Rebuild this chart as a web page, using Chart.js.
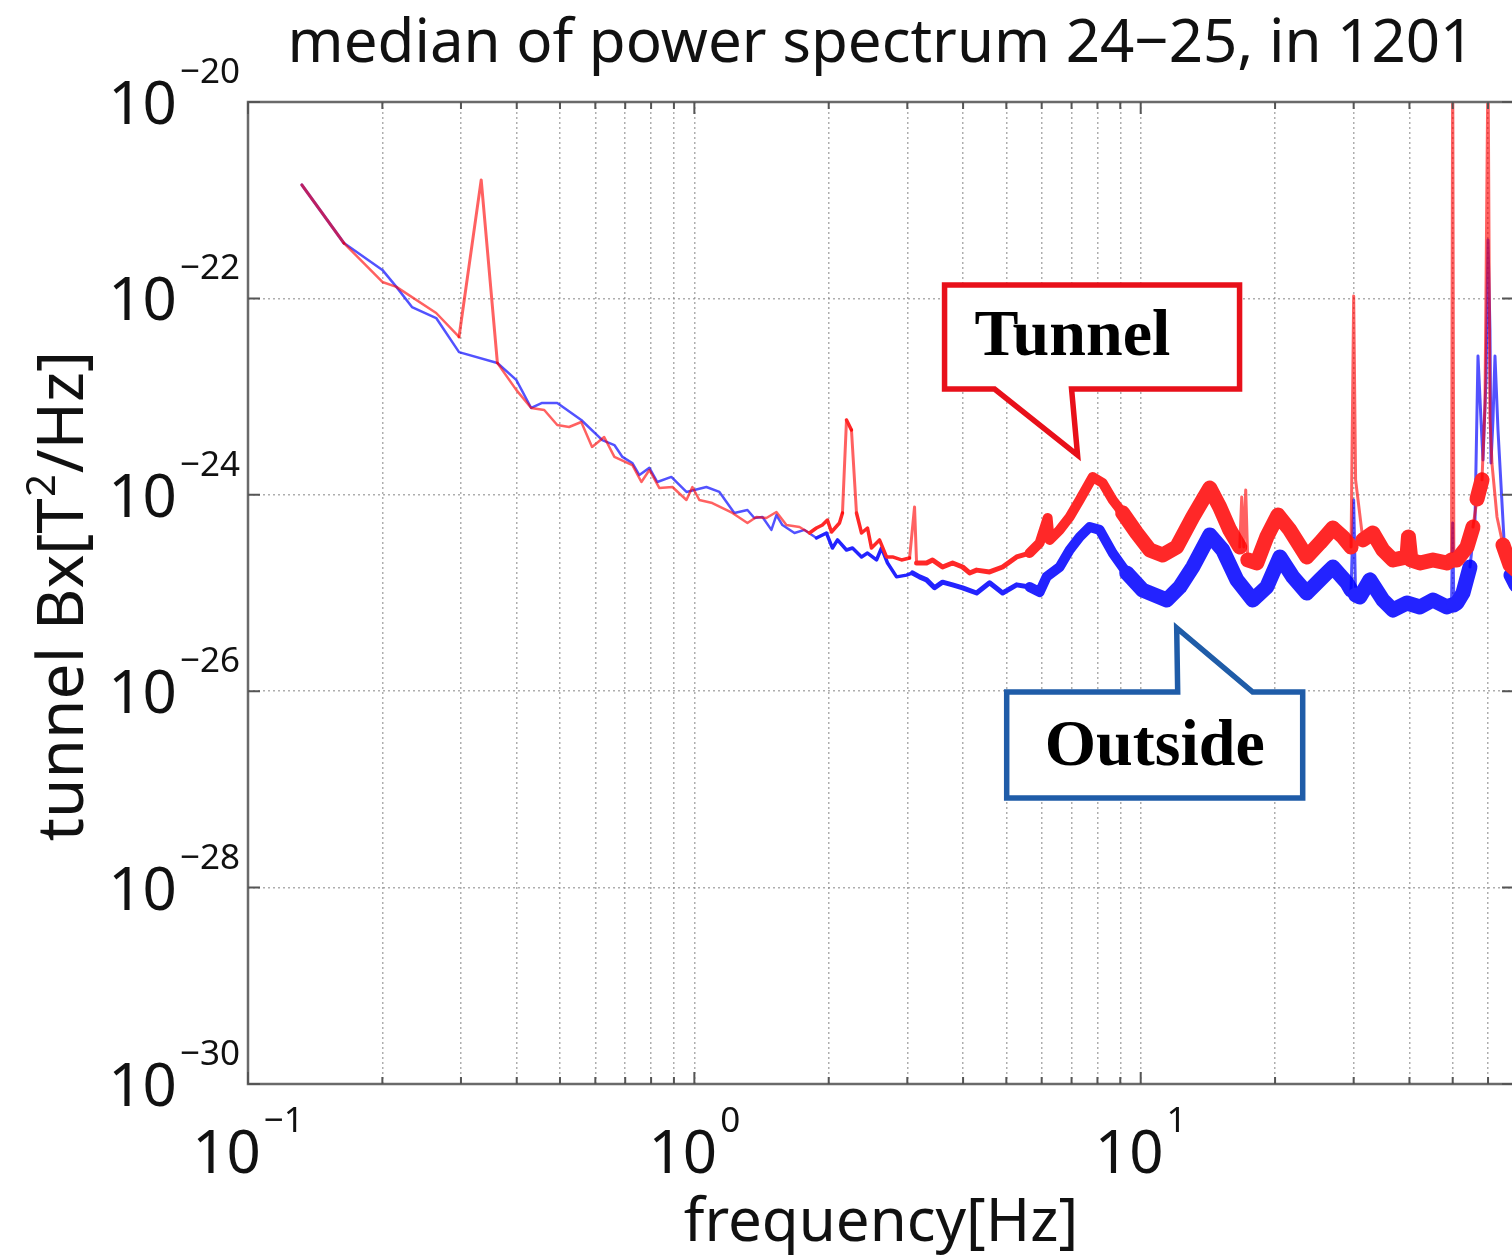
<!DOCTYPE html>
<html>
<head>
<meta charset="utf-8">
<script src="https://cdn.jsdelivr.net/npm/chart.js@4.4.1/dist/chart.umd.min.js"></script>
<style>
  html, body { margin: 0; padding: 0; background: #fff; overflow: hidden; }
  #wrap { width: 1530px; height: 1256px; }
</style>
</head>
<body>
<div id="wrap"><canvas id="psdChart" width="1530" height="1256"></canvas></div>
<script>
// --- median PSD, 24-25 (1201) : tunnel vs outside magnetometer ---
// frequency [Hz]
const tunnelFreq = [
  0.132, 0.164, 0.200, 0.215, 0.264, 0.297, 0.333, 0.362, 0.399, 0.431,
  0.461, 0.493, 0.524, 0.558, 0.590, 0.628, 0.662, 0.726, 0.761, 0.793,
  0.835, 0.893, 0.960, 0.990, 1.026, 1.097, 1.217, 1.315, 1.377, 1.450,
  1.527, 1.608, 1.720, 1.811, 1.877, 1.936, 1.987, 2.029, 2.114, 2.147,
  2.192, 2.249, 2.308, 2.369, 2.443, 2.494, 2.599, 2.695, 2.780, 2.912,
  3.035, 3.114, 3.147, 3.313, 3.417, 3.598, 3.789, 3.990, 4.137, 4.289,
  4.586, 4.905, 5.272, 5.638, 5.936, 6.187, 6.252, 6.583, 6.931, 7.298,
  7.806, 8.219, 8.655, 9.113, 9.795, 10.48, 11.20, 12.04, 13.08, 13.77,
  14.28, 15.03, 15.83, 16.67, 16.84, 17.02, 17.19, 17.37, 18.20, 19.16,
  20.29, 21.58, 23.56, 25.20, 26.95, 28.38, 29.6, 30.0, 30.3, 31.46,
  33.13, 34.88, 36.73, 39.49, 39.8, 40.3, 42.23, 45.15, 48.54, 49.7,
  50.0, 50.3, 51.1, 53.82, 55.52, 56.68, 58.16, 59.07, 60.0, 60.6,
  61.24, 62.84, 64.82, 67.21, 69.3
];
// PSD [T^2/Hz]
const tunnelPSD = [
  1.43e-21, 3.66e-22, 1.47e-22, 1.31e-22, 7.10e-23, 4.05e-23, 1.61e-21, 2.20e-23, 1.17e-23, 7.66e-24,
  7.31e-24, 5.14e-24, 4.90e-24, 5.51e-24, 3.07e-24, 3.88e-24, 2.43e-24, 2.01e-24, 1.35e-24, 1.79e-24,
  1.17e-24, 1.20e-24, 8.85e-25, 1.20e-24, 8.85e-25, 8.24e-25, 6.53e-25, 5.16e-25, 5.94e-25, 5.81e-25,
  6.68e-25, 4.92e-25, 4.70e-25, 4.08e-25, 4.59e-25, 4.92e-25, 5.53e-25, 4.18e-25, 5.16e-25, 6.53e-25,
  5.78e-24, 4.57e-24, 6.53e-25, 4.08e-25, 4.59e-25, 2.87e-25, 3.47e-25, 2.33e-25, 2.33e-25, 2.17e-25,
  2.27e-25, 7.52e-25, 2.02e-25, 2.02e-25, 2.17e-25, 1.84e-25, 2.02e-25, 1.84e-25, 1.60e-25, 1.71e-25,
  1.64e-25, 1.84e-25, 2.33e-25, 2.55e-25, 3.23e-25, 5.81e-25, 3.47e-25, 4.39e-25, 5.94e-25, 8.85e-25,
  1.52e-24, 1.32e-24, 8.85e-25, 6.53e-25, 4.08e-25, 2.74e-25, 2.44e-25, 2.94e-25, 5.94e-25, 8.85e-25,
  1.17e-24, 7.52e-25, 4.39e-25, 2.94e-25, 9.50e-25, 2.94e-25, 1.12e-24, 2.17e-25, 2.02e-25, 3.72e-25,
  6.22e-25, 4.39e-25, 2.33e-25, 3.23e-25, 4.59e-25, 3.72e-25, 2.94e-25, 1.06e-22, 1.42e-24, 3.47e-25,
  4.08e-25, 2.74e-25, 2.17e-25, 2.33e-25, 3.72e-25, 2.17e-25, 2.02e-25, 2.17e-25, 2.02e-25, 2.17e-25,
  3.0e-20, 2.17e-25, 2.17e-25, 2.94e-25, 4.70e-25, 9.06e-25, 1.42e-24, 8.41e-24, 3.0e-20, 6.05e-24,
  2.06e-24, 5.94e-25, 3.08e-25, 1.93e-25, 1.71e-25
];
const outsideFreq = [
  0.132, 0.164, 0.200, 0.215, 0.233, 0.264, 0.297, 0.362, 0.399, 0.431,
  0.456, 0.493, 0.558, 0.622, 0.662, 0.690, 0.726, 0.753, 0.793, 0.826,
  0.888, 0.960, 1.000, 1.064, 1.138, 1.229, 1.315, 1.363, 1.421, 1.488,
  1.527, 1.575, 1.676, 1.765, 1.877, 1.977, 2.039, 2.093, 2.192, 2.261,
  2.369, 2.443, 2.559, 2.626, 2.709, 2.838, 2.988, 3.082, 3.196, 3.313,
  3.452, 3.598, 3.789, 3.990, 4.289, 4.586, 4.905, 5.272, 5.638, 5.936,
  6.155, 6.583, 6.931, 7.298, 7.686, 8.093, 8.655, 9.304, 10.10, 11.44,
  12.23, 13.08, 14.28, 15.27, 16.42, 17.83, 19.16, 20.50, 21.92, 23.56,
  25.20, 26.95, 28.97, 29.6, 30.0, 30.3, 30.97, 32.62, 34.88, 36.73,
  39.49, 42.23, 45.15, 48.54, 49.7, 50.0, 50.3, 51.11, 52.72, 54.66,
  56.10, 56.97, 57.86, 58.46, 59.37, 60.0, 60.6, 60.92, 61.55, 62.19,
  63.16, 65.16, 67.55, 69.3
];
const outsidePSD = [
  1.43e-21, 3.66e-22, 1.95e-22, 1.31e-22, 8.17e-23, 6.31e-23, 2.84e-23, 2.20e-23, 1.48e-23, 7.66e-24,
  8.61e-24, 8.61e-24, 5.78e-24, 3.61e-24, 3.21e-24, 2.43e-24, 2.11e-24, 1.59e-24, 1.88e-24, 1.35e-24,
  1.52e-24, 1.07e-24, 1.12e-24, 1.20e-24, 1.07e-24, 6.53e-25, 7.00e-25, 5.81e-25, 5.94e-25, 4.39e-25,
  6.22e-25, 4.92e-25, 4.08e-25, 4.39e-25, 3.63e-25, 4.08e-25, 2.87e-25, 3.47e-25, 2.74e-25, 2.87e-25,
  2.33e-25, 2.55e-25, 2.17e-25, 2.87e-25, 2.02e-25, 1.46e-25, 1.52e-25, 1.60e-25, 1.46e-25, 1.36e-25,
  1.13e-25, 1.29e-25, 1.21e-25, 1.13e-25, 1.00e-25, 1.27e-25, 1.00e-25, 1.21e-25, 1.15e-25, 1.02e-25,
  1.46e-25, 1.84e-25, 2.74e-25, 3.72e-25, 4.70e-25, 4.39e-25, 2.55e-25, 1.60e-25, 1.07e-25, 8.49e-26,
  1.15e-25, 1.84e-25, 3.90e-25, 2.74e-25, 1.36e-25, 8.49e-26, 1.15e-25, 2.33e-25, 1.46e-25, 1.00e-25,
  1.36e-25, 1.84e-25, 1.27e-25, 1.07e-25, 8.85e-25, 9.55e-26, 9.10e-26, 1.36e-25, 8.49e-26, 6.71e-26,
  7.91e-26, 7.20e-26, 8.49e-26, 7.20e-26, 7.55e-26, 5.16e-25, 7.55e-26, 7.91e-26, 1.00e-25, 1.84e-25,
  5.53e-25, 2.59e-23, 5.78e-24, 2.26e-24, 1.48e-23, 3.94e-22, 4.76e-23, 2.11e-24, 5.78e-24, 2.59e-23,
  4.57e-24, 3.47e-25, 1.52e-25, 1.21e-25
];

const xMajorTicks = [0.1, 1, 10];
const xGridTicks = [0.1, 0.2, 0.3, 0.4, 0.5, 0.6, 0.7, 0.8, 0.9,
                    1, 2, 3, 4, 5, 6, 7, 8, 9, 10, 20, 30, 40, 50, 60];
const yTicks = [1e-30, 1e-28, 1e-26, 1e-24, 1e-22, 1e-20];

// callout tips (frequency, PSD)
const tunnelTag = { f: 7.22, v: 2.54e-24, text: 'Tunnel' };
const outsideTag = { f: 12.04, v: 4.40e-26, text: 'Outside' };

const FONT = '"Noto Sans", "Liberation Sans", sans-serif';

function segFreq(c) {
  return c.chart.data.datasets[c.datasetIndex].data[c.p0DataIndex].x;
}

function isSpike(c) {
  const dy = Math.abs(c.p1.y - c.p0.y);
  return dy > 45 || (segFreq(c) > 55 && dy > 25);
}

// thin line at low frequency and on spikes, fat noisy band above a few Hz
function bandWidth(c) {
  if (isSpike(c)) return 3;
  const f = segFreq(c);
  return f < 1.8 ? 2.5 : f < 3 ? 3.5 : f < 5.5 ? 5 : f < 9 ? 10 : 15;
}

function bandColor(soft, solid) {
  return c => (segFreq(c) < 1.8 || isSpike(c) ? soft : solid);
}

function drawPow(ctx, v, ax, baseY, align) {
  const exp = String(Math.round(Math.log10(v))).replace('-', '\u2212');
  ctx.font = `60px ${FONT}`;
  const wb = ctx.measureText('10').width;
  ctx.font = `35px ${FONT}`;
  const we = ctx.measureText(exp).width;
  const total = wb + 3 + we;
  const left = align === 'center' ? ax - total / 2 : ax - total;
  ctx.textAlign = 'left';
  ctx.textBaseline = 'alphabetic';
  ctx.font = `60px ${FONT}`;
  ctx.fillText('10', left, baseY);
  ctx.font = `35px ${FONT}`;
  ctx.fillText(exp, left + wb + 3, baseY - 41);
}

function callout(ctx, tip, box, base, color, text, tx, ty) {
  ctx.beginPath();
  if (base.side === 'bottom') {
    ctx.moveTo(box.l, box.t);
    ctx.lineTo(box.r, box.t);
    ctx.lineTo(box.r, box.b);
    ctx.lineTo(base.b2, box.b);
    ctx.lineTo(tip.x, tip.y);
    ctx.lineTo(base.b1, box.b);
    ctx.lineTo(box.l, box.b);
  } else {
    ctx.moveTo(box.l, box.t);
    ctx.lineTo(base.b1, box.t);
    ctx.lineTo(tip.x, tip.y);
    ctx.lineTo(base.b2, box.t);
    ctx.lineTo(box.r, box.t);
    ctx.lineTo(box.r, box.b);
    ctx.lineTo(box.l, box.b);
  }
  ctx.closePath();
  ctx.fillStyle = '#fff';
  ctx.fill();
  ctx.lineWidth = 5.5;
  ctx.lineJoin = 'miter';
  ctx.strokeStyle = color;
  ctx.stroke();
  ctx.fillStyle = '#000';
  ctx.font = 'bold 66px "Liberation Serif", "Times New Roman", serif';
  ctx.textAlign = 'left';
  ctx.textBaseline = 'alphabetic';
  ctx.fillText(text, tx, ty);
}

const frame = {
  id: 'matlabFrame',
  afterDraw(chart) {
    const { ctx, chartArea: a, scales: { x, y } } = chart;
    ctx.save();
    ctx.strokeStyle = '#6a6a6a';
    ctx.lineWidth = 2.5;
    ctx.strokeRect(a.left, a.top, a.right - a.left, a.bottom - a.top);

    ctx.strokeStyle = '#555';
    ctx.lineWidth = 2;
    xGridTicks.forEach(v => {
      const px = x.getPixelForValue(v);
      const len = xMajorTicks.includes(v) ? 12 : 7;
      ctx.beginPath();
      ctx.moveTo(px, a.bottom); ctx.lineTo(px, a.bottom - len);
      ctx.moveTo(px, a.top); ctx.lineTo(px, a.top + len);
      ctx.stroke();
    });
    yTicks.forEach(v => {
      const py = y.getPixelForValue(v);
      ctx.beginPath();
      ctx.moveTo(a.left, py); ctx.lineTo(a.left + 12, py);
      ctx.moveTo(a.right, py); ctx.lineTo(a.right - 12, py);
      ctx.stroke();
    });

    ctx.fillStyle = '#111';
    xMajorTicks.forEach(v => drawPow(ctx, v, x.getPixelForValue(v), a.bottom + 89, 'center'));
    yTicks.forEach(v => drawPow(ctx, v, a.left - 8, y.getPixelForValue(v) + 22, 'right'));

    const cx = (a.left + a.right) / 2;
    ctx.font = `60px ${FONT}`;
    ctx.textAlign = 'center';
    ctx.fillText('median of power spectrum 24\u221225, in 1201', cx, 62);
    ctx.fillText('frequency[Hz]', cx, a.bottom + 157);

    // y label with superscript
    const p1 = 'tunnel Bx[T', p2 = '2', p3 = '/Hz]';
    ctx.font = `64px ${FONT}`;
    const w1 = ctx.measureText(p1).width, w3 = ctx.measureText(p3).width;
    ctx.font = `40px ${FONT}`;
    const w2 = ctx.measureText(p2).width;
    const tot = w1 + w2 + w3 + 2;
    ctx.translate(83, (a.top + a.bottom) / 2 + 3);
    ctx.rotate(-Math.PI / 2);
    ctx.textAlign = 'left';
    ctx.font = `64px ${FONT}`;
    ctx.fillText(p1, -tot / 2, 0);
    ctx.font = `40px ${FONT}`;
    ctx.fillText(p2, -tot / 2 + w1 + 1, -28);
    ctx.font = `64px ${FONT}`;
    ctx.fillText(p3, -tot / 2 + w1 + w2 + 2, 0);
    ctx.setTransform(1, 0, 0, 1, 0, 0);

    // callouts
    const t1 = { x: x.getPixelForValue(tunnelTag.f), y: y.getPixelForValue(tunnelTag.v) };
    callout(ctx, t1,
      { l: t1.x - 133, r: t1.x + 162, t: t1.y - 170, b: t1.y - 66 },
      { side: 'bottom', b1: t1.x - 83, b2: t1.x - 6 },
      '#e8101a', tunnelTag.text, t1.x - 103, t1.y - 100);
    const t2 = { x: x.getPixelForValue(outsideTag.f), y: y.getPixelForValue(outsideTag.v) };
    callout(ctx, t2,
      { l: t2.x - 170, r: t2.x + 126, t: t2.y + 64, b: t2.y + 170 },
      { side: 'top', b1: t2.x + 1, b2: t2.x + 76 },
      '#1f5ca8', outsideTag.text, t2.x - 132, t2.y + 137);
    ctx.restore();
  }
};

const gridOpts = { color: 'rgba(140,140,140,0.7)', lineWidth: 1.5, drawTicks: false };

new Chart(document.getElementById('psdChart'), {
  type: 'line',
  data: {
    datasets: [
      {
        label: 'Tunnel',
        data: tunnelFreq.map((f, i) => ({ x: f, y: tunnelPSD[i] })),
        borderColor: 'rgba(255,0,0,0.72)',
        borderWidth: 2.5,
        pointRadius: 0,
        tension: 0,
        borderJoinStyle: 'round',
        borderCapStyle: 'round',
        segment: { borderWidth: bandWidth, borderColor: bandColor('rgba(255,0,0,0.62)', 'rgb(255,40,40)') },
        clip: 0
      },
      {
        label: 'Outside',
        data: outsideFreq.map((f, i) => ({ x: f, y: outsidePSD[i] })),
        borderColor: 'rgba(0,0,255,0.68)',
        borderWidth: 2.5,
        pointRadius: 0,
        tension: 0,
        borderJoinStyle: 'round',
        borderCapStyle: 'round',
        segment: { borderWidth: bandWidth, borderColor: bandColor('rgba(0,0,255,0.68)', 'rgb(35,35,255)') },
        clip: 0
      }
    ]
  },
  options: {
    responsive: false,
    animation: false,
    events: [],
    layout: { padding: { top: 102, right: 16, left: 0, bottom: 0 } },
    plugins: { legend: { display: false }, tooltip: { enabled: false }, title: { display: false } },
    scales: {
      x: {
        type: 'logarithmic', min: 0.1, max: 68.6,
        afterBuildTicks: s => { s.ticks = xGridTicks.map(v => ({ value: v })); },
        afterFit: s => { s.height = 172; },
        ticks: { display: false },
        grid: gridOpts,
        border: { display: false, dash: [2, 3] }
      },
      y: {
        type: 'logarithmic', min: 1e-30, max: 1e-20,
        afterBuildTicks: s => { s.ticks = yTicks.map(v => ({ value: v })); },
        afterFit: s => { s.width = 248; },
        ticks: { display: false },
        grid: gridOpts,
        border: { display: false, dash: [2, 3] }
      }
    }
  },
  plugins: [frame]
});
</script>
</body>
</html>
